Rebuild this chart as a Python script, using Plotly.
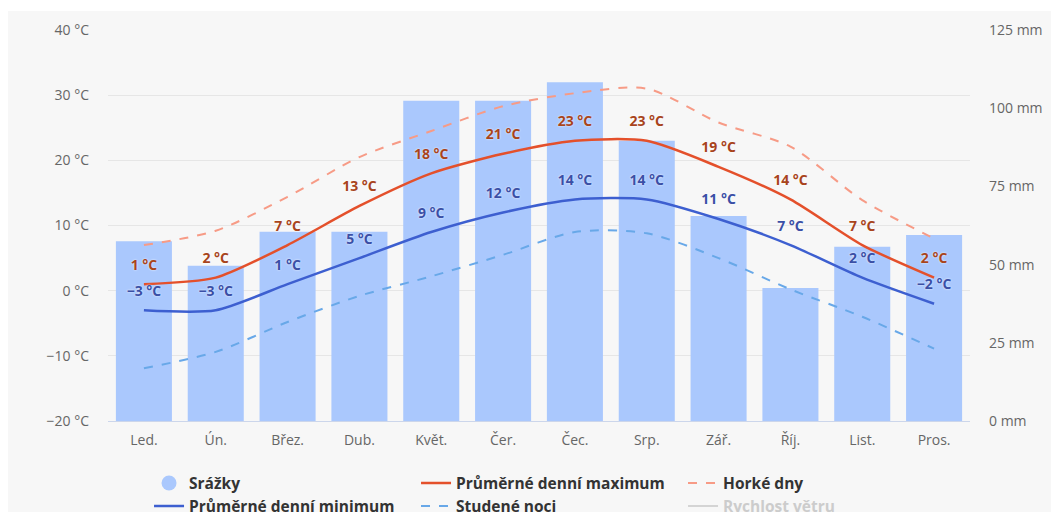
import plotly.graph_objects as go

# Monthly climate data
months = ["Led.", "Ún.", "Břez.", "Dub.", "Květ.", "Čer.", "Čec.", "Srp.", "Zář.", "Říj.", "List.", "Pros."]
precip_mm = [57.5, 49.6, 60.5, 60.5, 102.4, 102.4, 108.3, 89.6, 65.5, 42.5, 55.7, 59.5]
max_temp = [1, 2, 7, 13, 18, 21, 23, 23, 19, 14, 7, 2]
min_temp = [-3, -3, 1, 5, 9, 12, 14, 14, 11, 7, 2, -2]
hot_days = [7.0, 9.2, 14.4, 20.5, 24.5, 28.3, 30.3, 31.0, 25.8, 22.1, 13.9, 8.0]
cold_nights = [-11.9, -9.4, -4.8, -0.8, 2.2, 5.5, 9.0, 8.8, 5.0, 0.2, -4.0, -8.9]
temp_ticks = [-20, -10, 0, 10, 20, 30, 40]
mm_ticks = [0, 25, 50, 75, 100, 125]


def deg_label(v):
    return f"{v} °C".replace("-", "\u2212")


FONT = "Open Sans"
BG = "#f7f7f7"
MAX_COLOR = "#e4502b"
MIN_COLOR = "#3d5fd0"

fig = go.Figure()

# precipitation columns on the primary (mm) axis so they sit beneath the lines
fig.add_trace(go.Bar(
    x=months, y=precip_mm, yaxis="y", name="Srážky",
    marker=dict(color="#aac8fd", line=dict(width=0)),
    legendgroup="srazky", showlegend=False, hoverinfo="skip",
))
# circular legend key for the precipitation columns
fig.add_trace(go.Scatter(
    x=[None], y=[None], yaxis="y", name="Srážky", mode="markers",
    marker=dict(color="#aac8fd", size=15, symbol="circle"),
    legendgroup="srazky", legendrank=1,
))

fig.add_trace(go.Scatter(
    x=months, y=max_temp, yaxis="y2", name="Průměrné denní maximum", mode="lines",
    line=dict(color=MAX_COLOR, width=2.5, shape="spline", smoothing=0.7),
    legendrank=2,
))
fig.add_trace(go.Scatter(
    x=months, y=hot_days, yaxis="y2", name="Horké dny", mode="lines",
    line=dict(color="#f79b86", width=2, dash="dash", shape="spline", smoothing=0.8),
    legendrank=3,
))
fig.add_trace(go.Scatter(
    x=months, y=min_temp, yaxis="y2", name="Průměrné denní minimum", mode="lines",
    line=dict(color=MIN_COLOR, width=2.5, shape="spline", smoothing=0.7),
    legendrank=4,
))
fig.add_trace(go.Scatter(
    x=months, y=cold_nights, yaxis="y2", name="Studené noci", mode="lines",
    line=dict(color="#68a8e8", width=2, dash="dash", shape="spline", smoothing=0.8),
    legendrank=5,
))
fig.add_trace(go.Scatter(
    x=[None], y=[None], yaxis="y2",
    name="<span style='color:#cccccc'>Rychlost větru</span>", mode="lines",
    line=dict(color="#d4d4d4", width=2), legendrank=6,
))

# value labels above the max / min temperature points
for values, color in ((max_temp, "#a8441c"), (min_temp, "#3a4fa6")):
    fig.add_trace(go.Scatter(
        x=months, y=values, yaxis="y2", mode="markers+text",
        marker=dict(size=16, opacity=0),
        text=[deg_label(v) for v in values], textposition="top center",
        textfont=dict(family=FONT, size=14, color=color, weight="bold",
                      shadow="0px 0px 2px white"),
        showlegend=False, hoverinfo="skip",
    ))

tick_font = dict(family=FONT, size=14, color="#666666")

fig.update_layout(
    width=1051, height=512,
    margin=dict(l=108, r=81, t=30, b=91, autoexpand=False),
    paper_bgcolor=BG, plot_bgcolor=BG,
    bargap=0.22,
    xaxis=dict(
        type="category", range=[-0.5, len(months) - 0.5],
        showgrid=False, showline=True, linecolor="#ccd6eb",
        ticks="", tickfont=tick_font, ticklabelstandoff=6,
    ),
    yaxis=dict(
        range=[0, 125], tickvals=mm_ticks, ticktext=[f"{v} mm" for v in mm_ticks],
        side="right", showgrid=False, zeroline=False,
        tickfont=tick_font, ticklabelstandoff=18,
    ),
    yaxis2=dict(
        range=[-20, 40], tickvals=temp_ticks,
        ticktext=[deg_label(v) for v in temp_ticks],
        overlaying="y", side="left",
        showgrid=True, gridcolor="#e6e6e6", zeroline=False, tickfont=tick_font,
        ticklabelstandoff=18,
    ),
    legend=dict(
        orientation="h", x=0.0476, xanchor="left", y=-0.116, yanchor="top",
        entrywidth=222, bgcolor="rgba(0,0,0,0)",
        font=dict(family=FONT, size=15.5, color="#333333", weight="bold"),
        traceorder="normal",
    ),
    shapes=[
        # white margins around the grey panel
        dict(type="rect", xref="paper", yref="paper", x0=-0.2, x1=1.2,
             y0=1.0487, y1=1.2, fillcolor="white", line=dict(width=0), layer="below"),
        dict(type="rect", xref="paper", yref="paper", x0=-0.2, x1=-0.1160,
             y0=-0.5, y1=1.2, fillcolor="white", line=dict(width=0), layer="below"),
    ],
    showlegend=True,
)

fig.write_html("out.html")
